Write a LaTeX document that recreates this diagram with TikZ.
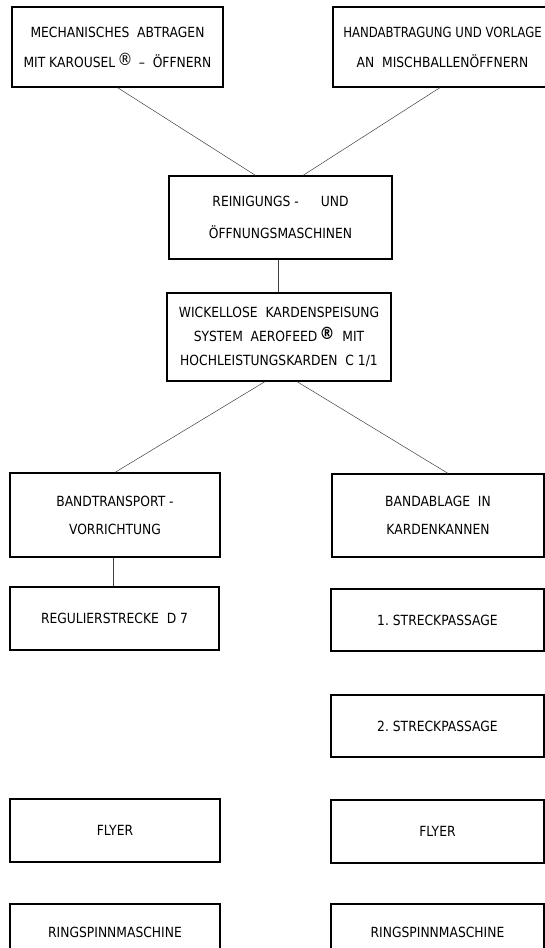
\documentclass[tikz,border=0pt]{standalone}
\usepackage{fontspec}
\usepackage{graphicx}
\setmainfont{DejaVu Sans}[FakeStretch=0.88]
\usetikzlibrary{calc}
\begin{document}
\begin{tikzpicture}[x=1pt,y=-1pt,
  box/.style={draw=black, line width=1.2pt, inner sep=0pt, align=center,
    font=\fontsize{14}{30}\selectfont},
  link/.style={draw=black!75, line width=0.5pt}]
\useasboundingbox (0,0) rectangle (545,948);
\clip (0,0) rectangle (545,948);
% top row
\node[box, minimum width=211, minimum height=80] (A) at (117.5,47)
  {MECHANISCHES\ \ ABTRAGEN\\MIT KAROUSEL\,\raisebox{2pt}{\fontsize{17}{17}\selectfont ®}\, –\ \ ÖFFNERN};
\node[box, minimum width=219, minimum height=80] (B) at (442.5,47)
  {\scalebox{0.95}[1]{HANDABTRAGUNG UND VORLAGE}\hspace{2pt}\\AN\ \ MISCHBALLENÖFFNERN\hspace{14pt}};
\node[box, minimum width=223, minimum height=83, font=\fontsize{14}{32}\selectfont] (C) at (280.5,217.5)
  {REINIGUNGS -\hspace{22pt}UND\hspace{6pt}\\ÖFFNUNGSMASCHINEN};
\node[box, minimum width=224, minimum height=88, font=\fontsize{14}{24}\selectfont] (D) at (279,337)
  {WICKELLOSE\ \ KARDENSPEISUNG\\SYSTEM\ \ AEROFEED\,\raisebox{2pt}{\fontsize{17}{17}\selectfont\bfseries ®}\ \ MIT\\HOCHLEISTUNGSKARDEN\ \ C 1/1};
% left column
\node[box, minimum width=210, minimum height=84, font=\fontsize{14}{28}\selectfont] (E) at (115,515)
  {BANDTRANSPORT -\\VORRICHTUNG};
\node[box, minimum width=209, minimum height=63] (G) at (114.5,618.5)
  {REGULIERSTRECKE\ \ D 7};
\node[box, minimum width=210, minimum height=63] (J) at (115,830.5) {FLYER};
\node[box, minimum width=210, minimum height=56] (L) at (115,932) {RINGSPINNMASCHINE};
% right column
\node[box, minimum width=212, minimum height=83, font=\fontsize{14}{28}\selectfont] (F) at (438,515.5)
  {BANDABLAGE\ \ IN\\KARDENKANNEN};
\node[box, minimum width=213, minimum height=62] (H) at (437.5,620) {1.\ STRECKPASSAGE};
\node[box, minimum width=213, minimum height=62] (I) at (437.5,726) {2.\ STRECKPASSAGE};
\node[box, minimum width=213, minimum height=63] (K) at (437.5,831.5) {FLYER};
\node[box, minimum width=213, minimum height=56] (M) at (437.5,932) {RINGSPINNMASCHINE};
% connectors
\draw[link] (A.south) -- ($(C.north)+(-25,0)$);
\draw[link] ($(B.south)+(-2.5,0)$) -- ($(C.north)+(22.5,0)$);
\draw[link] ($(C.south)+(-2.5,0)$) -- ($(D.north)+(-1,0)$);
\draw[link] ($(D.south)+(-14,0)$) -- (E.north);
\draw[link] ($(D.south)+(18,0)$) -- ($(F.north)+(10,0)$);
\draw[link] ($(E.south)+(-2,0)$) -- ($(G.north)+(-1.5,0)$);
\end{tikzpicture}
\end{document}
